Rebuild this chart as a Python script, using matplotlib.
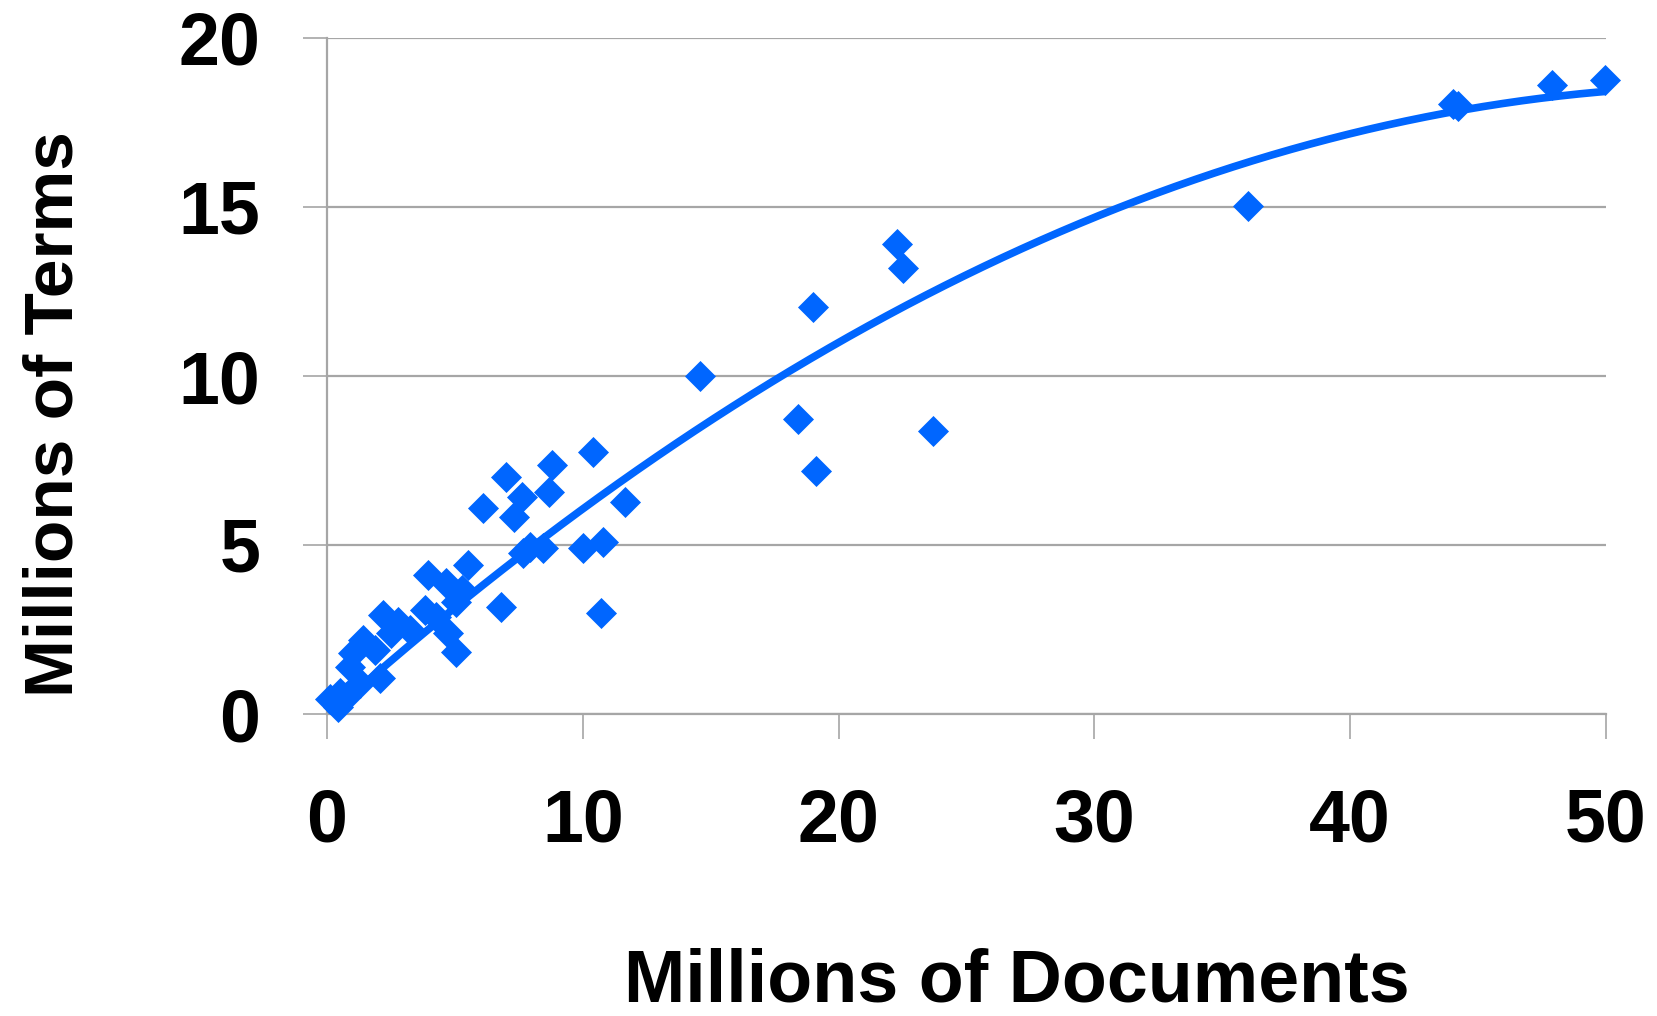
import numpy as np
import matplotlib.pyplot as plt

plt.rcParams['font.family'] = ['Liberation Sans', 'DejaVu Sans']

# millions of documents / millions of terms
docs = [0.1, 0.43, 0.5, 0.76, 0.89, 1.02, 1.28, 1.41, 1.87, 2.06, 2.19, 2.52, 2.78,
        3.24, 3.82, 3.93, 4.28, 4.67, 4.74, 5.06, 5.06, 5.26, 5.52, 6.1, 6.8,
        6.99, 7.32, 7.63, 7.67, 7.93, 8.45, 8.69, 8.81, 9.99, 10.39, 10.7, 10.8,
        11.65, 14.6, 18.4, 19.0, 19.1, 22.3, 22.5, 23.7, 36.0, 44.0, 44.2, 47.9, 49.96]
terms = [0.45, 0.22, 0.61, 0.51, 1.4, 1.79, 0.91, 2.19, 1.89, 1.06, 2.93, 2.39, 2.73,
         2.49, 3.08, 4.11, 2.88, 3.87, 2.39, 3.32, 1.84, 3.67, 4.41, 6.08, 3.18,
         7.0, 5.84, 6.43, 4.75, 4.95, 4.9, 6.58, 7.37, 4.9, 7.76, 2.98, 5.1,
         6.28, 10.0, 8.72, 12.03, 7.19, 13.9, 13.19, 8.38, 15.03, 18.06, 18.0, 18.6, 18.75]

# polynomial trend line (x^2, x, 1)
trend_coef = [-0.00612, 0.676, -0.08]

x_ticks = [0, 10, 20, 30, 40, 50]
y_ticks = [0, 5, 10, 15, 20]

blue = '#0066ff'
grey = '#a6a6a6'

fig = plt.figure(figsize=(16.57, 10.16), dpi=100)
ax = fig.add_axes([327 / 1657, 1 - 714 / 1016, 1279 / 1657, 676 / 1016])

xs = np.linspace(min(docs), max(docs), 200)
ax.plot(xs, np.polyval(trend_coef, xs), color=blue, lw=5.5, zorder=3,
        solid_capstyle='butt')
ax.scatter(docs, terms, marker='D', s=250, color=blue, lw=0, zorder=4, clip_on=False)

ax.set_xlim(0, 50)
ax.set_ylim(0, 20)
ax.set_xticks(x_ticks)
ax.set_yticks(y_ticks)
ax.grid(axis='y', color=grey, lw=1.6, zorder=0)
ax.set_axisbelow(True)
for s in ['top', 'right']:
    ax.spines[s].set_visible(False)
for s in ['left', 'bottom']:
    ax.spines[s].set_color(grey)
    ax.spines[s].set_linewidth(1.6)
ax.tick_params(axis='y', length=17, width=1.2, color=grey, pad=31,
               labelsize=53)
ax.tick_params(axis='x', length=18, width=1.2, color=grey, pad=35,
               labelsize=53)
for lab in ax.get_xticklabels() + ax.get_yticklabels():
    lab.set_fontweight('bold')

ax.set_xlabel('Millions of Documents', fontsize=53, fontweight='bold', va='baseline')
ax.xaxis.set_label_coords(0.539, -0.425)
ax.set_ylabel('Millions of Terms', fontsize=50, fontweight='bold')
ax.yaxis.set_label_coords(-0.188, 0.444)

fig.savefig('out.png', dpi=100)
